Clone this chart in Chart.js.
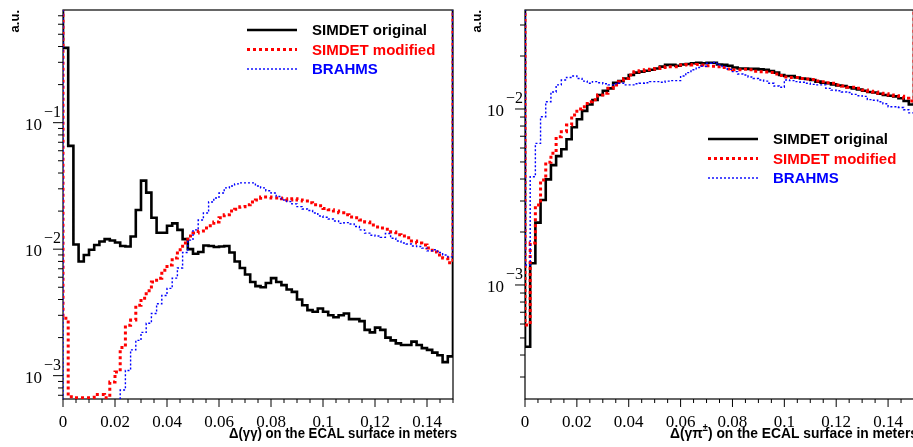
<!DOCTYPE html>
<html>
<head>
<meta charset="utf-8">
<script src="https://cdn.jsdelivr.net/npm/chart.js@4"></script>
<style>
  html, body { margin: 0; padding: 0; background: #fff; overflow: hidden; width: 913px; height: 447px; }
  .panel { position: absolute; top: 0; }
  #left { left: 0; }
  #right { left: 460px; }
</style>
</head>
<body>
<div class="panel" id="left"><canvas id="cLeft" width="460" height="447"></canvas></div>
<div class="panel" id="right"><canvas id="cRight" width="456" height="447"></canvas></div>
<script>
// histogram bins: 75 bins of 0.002 m from 0 to 0.15
const binEdges = Array.from({length: 75}, (_, i) => +(i * 0.002).toFixed(3));
const xTickValues = [0, 0.02, 0.04, 0.06, 0.08, 0.1, 0.12, 0.14];
const xTickLabels = ['0', '0.02', '0.04', '0.06', '0.08', '0.1', '0.12', '0.14'];
const leftDecades = [-1, -2, -3];
const rightDecades = [-2, -3];
const seriesNames = ['SIMDET original', 'SIMDET modified', 'BRAHMS'];

// left panel: Delta(gamma gamma)
const leftOriginal = [
  0.39, 0.0655, 0.0109, 0.0080, 0.0090, 0.0099, 0.0108, 0.0115, 0.0120, 0.0117,
  0.0113, 0.0106, 0.0105, 0.0126, 0.0204, 0.0348, 0.0280, 0.0177, 0.0135, 0.0135,
  0.0153, 0.0160, 0.0142, 0.0120, 0.0100, 0.0092, 0.0095, 0.0107, 0.0106, 0.0104,
  0.0105, 0.0106, 0.0094, 0.0080, 0.0071, 0.0063, 0.0055, 0.0051, 0.0050, 0.0054,
  0.0059, 0.0055, 0.0052, 0.0048, 0.0046, 0.0040, 0.0036, 0.0033, 0.0032, 0.0034,
  0.0032, 0.0030, 0.0029, 0.0030, 0.0031, 0.0028, 0.0028, 0.0027, 0.0023, 0.0022,
  0.0024, 0.0023, 0.0020, 0.0019, 0.0018, 0.00175, 0.00175, 0.00186, 0.00175, 0.00165,
  0.0016, 0.00152, 0.00145, 0.00128, 0.00142
];
const leftModified = [
  0.00284, 0.00068, 0.00067, 0.00067, 0.00067, 0.00067, 0.00071, 0.00071, 0.00067, 0.00089,
  0.00107, 0.00167, 0.0025, 0.00275, 0.0036, 0.0041, 0.0047, 0.0055, 0.0059, 0.0068,
  0.0075, 0.0085, 0.0099, 0.0112, 0.0127, 0.0134, 0.0139, 0.0147, 0.0153, 0.0164,
  0.0177, 0.0187, 0.0200, 0.0207, 0.0216, 0.0224, 0.0236, 0.0245, 0.0258, 0.0258,
  0.0254, 0.0254, 0.0250, 0.0245, 0.0250, 0.0245, 0.0240, 0.0233, 0.0224, 0.0220,
  0.0210, 0.0205, 0.0200, 0.0194, 0.0187, 0.0180, 0.0177, 0.0170, 0.0164, 0.0155,
  0.0150, 0.0147, 0.0144, 0.0137, 0.0130, 0.0127, 0.0123, 0.0116, 0.0112, 0.0108,
  0.0102, 0.0095, 0.0090, 0.0085, 0.0078
];
const leftBrahms = [
  0.0003, 0.0003, 0.0003, 0.0003, 0.0003, 0.0003, 0.0003, 0.0003, 0.0003, 0.0003,
  0.0006, 0.00077, 0.0011, 0.0016, 0.0019, 0.0022, 0.0026, 0.0031, 0.0037, 0.0043,
  0.0049, 0.0059, 0.0071, 0.0094, 0.0118, 0.0142, 0.0170, 0.0193, 0.0236, 0.0254,
  0.0278, 0.0305, 0.0316, 0.0328, 0.0334, 0.0334, 0.0334, 0.0316, 0.0305, 0.0290,
  0.0278, 0.0261, 0.0245, 0.0238, 0.0228, 0.0217, 0.0208, 0.0202, 0.0193, 0.0183,
  0.0179, 0.0173, 0.0167, 0.0160, 0.0162, 0.0158, 0.0151, 0.0142, 0.0134, 0.0129,
  0.0127, 0.0124, 0.0133, 0.0122, 0.0116, 0.0112, 0.0110, 0.0106, 0.0105, 0.0102,
  0.0097, 0.0099, 0.0094, 0.0090, 0.0087
];

// right panel: Delta(gamma pi+-)
const rightOriginal = [
  0.000446, 0.00133, 0.00226, 0.00304, 0.00398, 0.0048, 0.0054, 0.0059, 0.00673, 0.00787,
  0.00874, 0.00975, 0.0106, 0.01125, 0.0120, 0.0127, 0.0131, 0.0141, 0.0144, 0.0149,
  0.0156, 0.0161, 0.0163, 0.0165, 0.0167, 0.0170, 0.0174, 0.0178, 0.0178, 0.0176,
  0.0179, 0.0180, 0.0182, 0.0183, 0.0182, 0.0183, 0.0183, 0.0179, 0.0178, 0.0176,
  0.0172, 0.0170, 0.0170, 0.0169, 0.0169, 0.0168, 0.0167, 0.0164, 0.0161, 0.0156,
  0.0154, 0.0154, 0.0151, 0.0149, 0.0148, 0.0146, 0.0143, 0.0141, 0.0140, 0.0138,
  0.0136, 0.0135, 0.0133, 0.0131, 0.0129, 0.0127, 0.0125, 0.0124, 0.0122, 0.0120,
  0.0119, 0.0118, 0.0115, 0.0111, 0.0106
];
const rightModified = [
  0.000593, 0.00173, 0.00285, 0.00395, 0.00498, 0.0056, 0.00696, 0.00743, 0.0081, 0.00925,
  0.0100, 0.0103, 0.0110, 0.0113, 0.0120, 0.0123, 0.0131, 0.0137, 0.0143, 0.0149,
  0.0156, 0.0163, 0.0165, 0.0167, 0.0168, 0.0170, 0.0172, 0.0174, 0.0174, 0.0174,
  0.0178, 0.0179, 0.0178, 0.0179, 0.0178, 0.0176, 0.0175, 0.0174, 0.0172, 0.0169,
  0.0167, 0.0167, 0.0168, 0.0167, 0.0164, 0.0163, 0.0162, 0.0161, 0.0158, 0.0155,
  0.0152, 0.0151, 0.0151, 0.0149, 0.0148, 0.0147, 0.0144, 0.0143, 0.0141, 0.0140,
  0.0137, 0.0135, 0.0133, 0.0133, 0.0131, 0.0128, 0.0126, 0.0125, 0.0123, 0.0122,
  0.0120, 0.0119, 0.0118, 0.0115, 0.0111
];
const rightBrahms = [
  0.0013, 0.00412, 0.00638, 0.00904, 0.0110, 0.0125, 0.0137, 0.0146, 0.0151, 0.0154,
  0.0149, 0.0144, 0.0140, 0.0143, 0.0141, 0.0139, 0.0137, 0.0139, 0.0140, 0.0137,
  0.0137, 0.0139, 0.0140, 0.0141, 0.0143, 0.0143, 0.0142, 0.0144, 0.0145, 0.0145,
  0.0154, 0.0161, 0.0167, 0.0172, 0.0175, 0.0182, 0.0184, 0.0178, 0.0174, 0.0168,
  0.0163, 0.0158, 0.0156, 0.0152, 0.0149, 0.0146, 0.0144, 0.0140, 0.0135, 0.0133,
  0.0146, 0.0145, 0.0143, 0.0142, 0.0140, 0.0138, 0.0137, 0.0137, 0.0131, 0.0128,
  0.0127, 0.0125, 0.0124, 0.0121, 0.0119, 0.0118, 0.0113, 0.0112, 0.0110, 0.0107,
  0.0103, 0.0103, 0.0102, 0.0099, 0.0095
];

// step outline with the vertical edges at x=0 and x=0.15 (ROOT style)
function toPoints(vals) {
  let pts = [{x: 0, y: 10}];
  vals.forEach((v, i) => pts.push({x: binEdges[i], y: v}));
  pts.push({x: 0.15, y: vals[vals.length - 1]});
  pts.push({x: 0.15, y: 10});
  return pts;
}

const styles = [
  {color: '#000000', width: 2.6, dash: [], order: 3},
  {color: '#ff0000', width: 3, dash: [3, 3], order: 2},
  {color: '#0000ff', width: 1.4, dash: [2, 2], order: 1}
];

function makeDatasets(series) {
  return series.map((vals, i) => ({
    label: seriesNames[i],
    data: toPoints(vals),
    borderColor: styles[i].color,
    borderWidth: styles[i].width,
    borderDash: styles[i].dash,
    borderCapStyle: 'butt',
    stepped: true,
    fill: false,
    pointRadius: 0,
    order: styles[i].order
  }));
}

const SERIF = '"Liberation Serif", "Times New Roman", serif';
const SANS = '"Liberation Sans", Arial, sans-serif';

const rootAxes = {
  id: 'rootAxes',
  beforeDatasetsDraw(chart, args, opts) {
    const ctx = chart.ctx, a = chart.chartArea;
    const xs = chart.scales.x, ys = chart.scales.y;
    ctx.save();
    ctx.strokeStyle = '#000';
    ctx.lineWidth = 1.2;
    ctx.strokeRect(a.left, a.top, a.right - a.left, a.bottom - a.top);

    ctx.beginPath();
    ctx.lineWidth = 1;
    for (let i = 0; i <= 30; i++) {
      const px = xs.getPixelForValue(i * 0.005);
      const len = (i % 4 === 0) ? 8 : 4;
      ctx.moveTo(px, a.bottom);
      ctx.lineTo(px, a.bottom + len);
    }
    for (let e = -5; e <= 1; e++) {
      for (let k = 1; k <= 9; k++) {
        const v = k * Math.pow(10, e);
        if (v < ys.min || v > ys.max) continue;
        const py = ys.getPixelForValue(v);
        ctx.moveTo(a.left, py);
        ctx.lineTo(a.left - (k === 1 ? 10 : 5), py);
      }
    }
    ctx.stroke();

    // x tick labels
    ctx.fillStyle = '#000';
    ctx.font = '17px ' + SERIF;
    ctx.textAlign = 'center';
    ctx.textBaseline = 'alphabetic';
    xTickValues.forEach((v, i) => {
      ctx.fillText(xTickLabels[i], xs.getPixelForValue(v), a.bottom + 28);
    });

    // y tick labels 10^n
    opts.decades.forEach(e => {
      const py = ys.getPixelForValue(Math.pow(10, e));
      ctx.font = '17px ' + SERIF;
      ctx.textAlign = 'right';
      ctx.fillText('10', a.left - 21, py + 7);
      ctx.font = '16px ' + SERIF;
      ctx.textAlign = 'left';
      ctx.fillText('\u2212' + Math.abs(e), a.left - 19, py - 6);
    });

    // y title
    ctx.save();
    ctx.translate(a.left - 48, a.top);
    ctx.rotate(-Math.PI / 2);
    ctx.font = 'bold 13px ' + SANS;
    ctx.textAlign = 'right';
    ctx.textBaseline = 'middle';
    ctx.fillText('a.u.', 0, 0);
    ctx.restore();

    // x title, squeezed to the width seen in the plot
    let total = 0;
    opts.title.forEach(p => {
      ctx.font = (p.sup ? 'bold 10px ' : 'bold 15px ') + SANS;
      p.w = ctx.measureText(p.t).width;
      total += p.w;
    });
    ctx.save();
    ctx.translate(a.right + 4 - opts.titleWidth, a.bottom + 39);
    ctx.scale(opts.titleWidth / total, 1);
    ctx.textAlign = 'left';
    let x = 0;
    opts.title.forEach(p => {
      ctx.font = (p.sup ? 'bold 10px ' : 'bold 15px ') + SANS;
      ctx.fillText(p.t, x, p.sup ? -7 : 0);
      x += p.w;
    });
    ctx.restore();
    ctx.restore();
  },
  afterDatasetsDraw(chart, args, opts) {
    const ctx = chart.ctx;
    const L = opts.legend;
    ctx.save();
    chart.data.datasets.forEach((ds, i) => {
      const y = L.y + i * 19.5;
      ctx.strokeStyle = ds.borderColor;
      ctx.lineWidth = ds.borderWidth;
      ctx.setLineDash(ds.borderDash);
      ctx.beginPath();
      ctx.moveTo(L.x, y);
      ctx.lineTo(L.x + 50, y);
      ctx.stroke();
      ctx.setLineDash([]);
      ctx.fillStyle = ds.borderColor;
      ctx.font = 'bold 15px ' + SANS;
      ctx.textAlign = 'left';
      ctx.textBaseline = 'middle';
      ctx.fillText(ds.label, L.x + 65, y + 1);
    });
    ctx.restore();
  }
};

function makePanel(id, series, yMin, yMax, padding, axesOpts) {
  return new Chart(document.getElementById(id), {
    type: 'line',
    data: { datasets: makeDatasets(series) },
    options: {
      responsive: false,
      animation: false,
      devicePixelRatio: 1,
      layout: { padding: padding },
      scales: {
        x: { type: 'linear', min: 0, max: 0.15, display: false },
        y: { type: 'logarithmic', min: yMin, max: yMax, display: false }
      },
      plugins: {
        legend: { display: false },
        tooltip: { enabled: false },
        rootAxes: axesOpts
      }
    },
    plugins: [rootAxes]
  });
}

makePanel('cLeft', [leftOriginal, leftModified, leftBrahms], 6.54e-4, 0.7776,
  {left: 63, top: 10, right: 7, bottom: 48},
  {
    decades: leftDecades,
    title: [{t: '\u0394(\u03b3\u03b3) on the ECAL surface in meters'}],
    titleWidth: 228,
    legend: {x: 247, y: 30}
  });

makePanel('cRight', [rightOriginal, rightModified, rightBrahms], 2.25e-4, 0.03651,
  {left: 65, top: 10, right: 2, bottom: 48},
  {
    decades: rightDecades,
    title: [{t: '\u0394(\u03b3\u03c0'}, {t: '\u00b1', sup: true}, {t: ') on the ECAL surface in meters'}],
    titleWidth: 248,
    legend: {x: 248, y: 139}
  });
</script>
</body>
</html>
